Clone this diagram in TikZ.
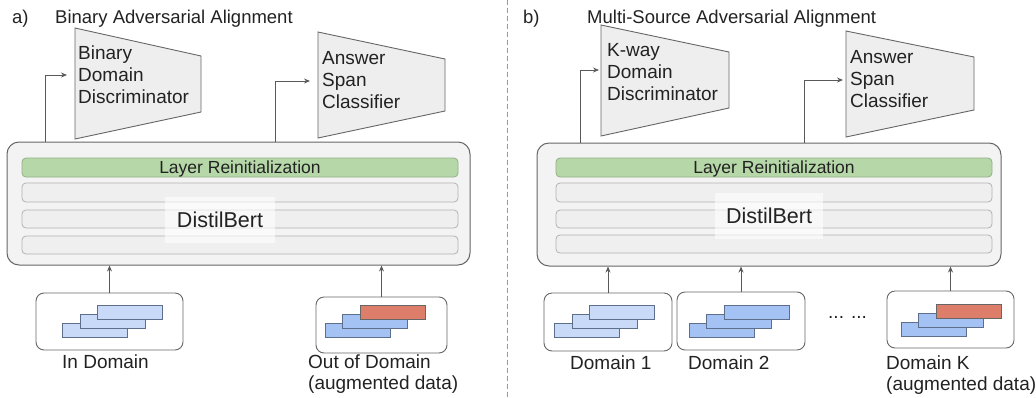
\documentclass[tikz,border=0pt]{standalone}
\usepackage{fontspec}
\setmainfont{Liberation Sans}
\usetikzlibrary{arrows.meta}
\definecolor{edge}{HTML}{666666}
\definecolor{arrowc}{HTML}{595959}
\definecolor{trapfill}{HTML}{EEEEEE}
\definecolor{bertfill}{HTML}{F3F3F3}
\definecolor{layerfill}{HTML}{EFEFEF}
\definecolor{layeredge}{HTML}{B3B3B3}
\definecolor{greenfill}{HTML}{B6D7A8}
\definecolor{greenedge}{HTML}{93B088}
\definecolor{lightblue}{HTML}{C9DAF8}
\definecolor{midblue}{HTML}{A4C2F4}
\definecolor{cardedge}{HTML}{5E6F8C}
\definecolor{redcard}{HTML}{DD7E6B}
\definecolor{txt}{HTML}{222222}
\begin{document}
\begin{tikzpicture}[x=1pt,y=-1pt,
  trap/.style={draw=edge, fill=trapfill, line width=0.9pt, line join=miter},
  bert/.style={draw=edge, fill=bertfill, rounded corners=12pt, line width=1pt, inner sep=0, minimum height=123},
  layer/.style={draw=layeredge, fill=layerfill, rounded corners=4pt, line width=0.8pt, inner sep=0, minimum width=436},
  greenlayer/.style={layer, draw=greenedge, fill=greenfill},
  patch/.style={fill=white, fill opacity=0.6, text opacity=1, inner sep=0, text=txt, font=\fontsize{21.5}{24}\selectfont},
  srcbox/.style={draw=edge, fill=white, rounded corners=8pt, line width=0.9pt, inner sep=0},
  card/.style={draw=cardedge, line width=0.7pt, inner sep=0, minimum width=65, minimum height=14},
  lightcard/.style={card, fill=lightblue},
  bluecard/.style={card, fill=midblue},
  redc/.style={card, fill=redcard, draw=edge},
  arr/.style={draw=arrowc, line width=0.8pt, -{Stealth[length=6pt,width=5pt]}},
  lbl/.style={font=\fontsize{19}{21}\selectfont, inner sep=0, anchor=base west, text=txt, align=left},
  traptext/.style={font=\fontsize{19}{22}\selectfont, inner sep=0, anchor=north west, text=txt, align=left},
  ttl/.style={font=\fontsize{18.5}{22}\selectfont, inner sep=0, anchor=base west, text=txt},
  layertext/.style={font=\fontsize{17.5}{20}\selectfont, inner sep=0, anchor=base, text=txt}
]
\useasboundingbox (0,0) rectangle (1036,397);

% divider
\coordinate (divtop) at (507,0);
\coordinate (divbot) at (507,397);
\draw[draw=gray!80, line width=0.8pt, dash pattern=on 5pt off 3pt] (divtop) -- (divbot);

% ================= panel a =================
\node[ttl] (alab) at (12,23) {a)};
\node[ttl] (atitle) at (55,23) {Binary Adversarial Alignment};

% trapezoids
\draw[trap] (75,28) -- (201,56) -- (201,112) -- (75,139) -- cycle;
\node[traptext] (bdd) at (78,46) {Binary\\Domain\\Discriminator};
\draw[trap] (318,32) -- (445,59) -- (445,111) -- (318,138) -- cycle;
\node[traptext] (ascA) at (322,51) {Answer\\Span\\Classifier};

% DistilBert
\node[bert, minimum width=463] (bertL) at (238.5,203.5) {};
\node[greenlayer, minimum height=19] (gL) at (240,167.5) {};
\node[layertext] (gLt) at (240,173) {Layer Reinitialization};
\node[layer, minimum height=19] (l1L) at (240,192.5) {};
\node[layer, minimum height=18] (l2L) at (240,219) {};
\node[layer, minimum height=18] (l3L) at (240,245) {};
\node[patch, minimum width=110, minimum height=46] (dbL) at (220,219.5) {DistilBert};

% top arrows
\coordinate (bddin) at (67,75);
\coordinate (ascAin) at (310,81);
\draw[arr] (bertL.north -| 45,0) |- (bddin);
\draw[arr] (bertL.north -| 275,0) |- (ascAin);

% source boxes
\node[srcbox, minimum width=147, minimum height=57] (inD) at (109.5,321.5) {};
\node[lightcard] at (95,330) {};
\node[lightcard] at (112.5,321) {};
\node[lightcard] at (130,312) {};
\node[lbl] (inDt) at (62,368) {In Domain};

\node[srcbox, minimum width=131, minimum height=56] (outD) at (381.5,325) {};
\node[bluecard] at (357.5,330) {};
\node[bluecard] at (374.5,321) {};
\node[redc] at (392.5,312) {};
\node[lbl] (outDt) at (308,389) {Out of Domain\\(augmented data)};

\draw[arr] (inD.north) -- (inD.north |- bertL.south);
\draw[arr] (outD.north) -- (outD.north |- bertL.south);

% ================= panel b =================
\node[ttl] (blab) at (523,23) {b)};
\node[ttl] (btitle) at (587,23) {Multi-Source Adversarial Alignment};

\draw[trap] (601,25) -- (729,52) -- (729,108) -- (601,136) -- cycle;
\node[traptext] (kdd) at (607,43) {K-way\\Domain\\Discriminator};
\draw[trap] (846,31) -- (974,57) -- (974,110) -- (846,137) -- cycle;
\node[traptext] (ascB) at (850,50) {Answer\\Span\\Classifier};

\node[bert, minimum width=464] (bertR) at (769,204.5) {};
\node[greenlayer, minimum height=19] (gR) at (774,167.5) {};
\node[layertext] (gRt) at (774,173) {Layer Reinitialization};
\node[layer, minimum height=19] (l1R) at (774,192.5) {};
\node[layer, minimum height=18] (l2R) at (774,219) {};
\node[layer, minimum height=18] (l3R) at (774,244) {};
\node[patch, minimum width=108, minimum height=46] (dbR) at (769,216) {DistilBert};

\coordinate (kddin) at (599,70);
\coordinate (ascBin) at (843,80);
\draw[arr] (bertR.north -| 580,0) |- (kddin);
\draw[arr] (bertR.north -| 804,0) |- (ascBin);

% domain boxes
\node[srcbox, minimum width=128, minimum height=58] (d1) at (608,322) {};
\node[lightcard] at (586.5,330) {};
\node[lightcard] at (604.5,321) {};
\node[lightcard] at (622,312) {};
\node[lbl] (d1t) at (570,369) {Domain 1};

\node[srcbox, minimum width=128, minimum height=58] (d2) at (741,321) {};
\node[bluecard] at (721.5,330) {};
\node[bluecard] at (738.5,321) {};
\node[bluecard] at (756.5,312) {};
\node[lbl] (d2t) at (688,369) {Domain 2};

\node[lbl] (dots) at (828,318) {... ...};

\node[srcbox, minimum width=127, minimum height=57] (dK) at (950.5,319.5) {};
\node[bluecard] at (933.5,329.5) {};
\node[bluecard] at (950.5,320.5) {};
\node[redc] at (968.5,311.5) {};
\node[lbl] (dKt) at (886,390) {Domain K\\(augmented data)};

\draw[arr] (d1.north) -- (d1.north |- bertR.south);
\draw[arr] (d2.north) -- (d2.north |- bertR.south);
\draw[arr] (dK.north) -- (dK.north |- bertR.south);
\end{tikzpicture}
\end{document}
